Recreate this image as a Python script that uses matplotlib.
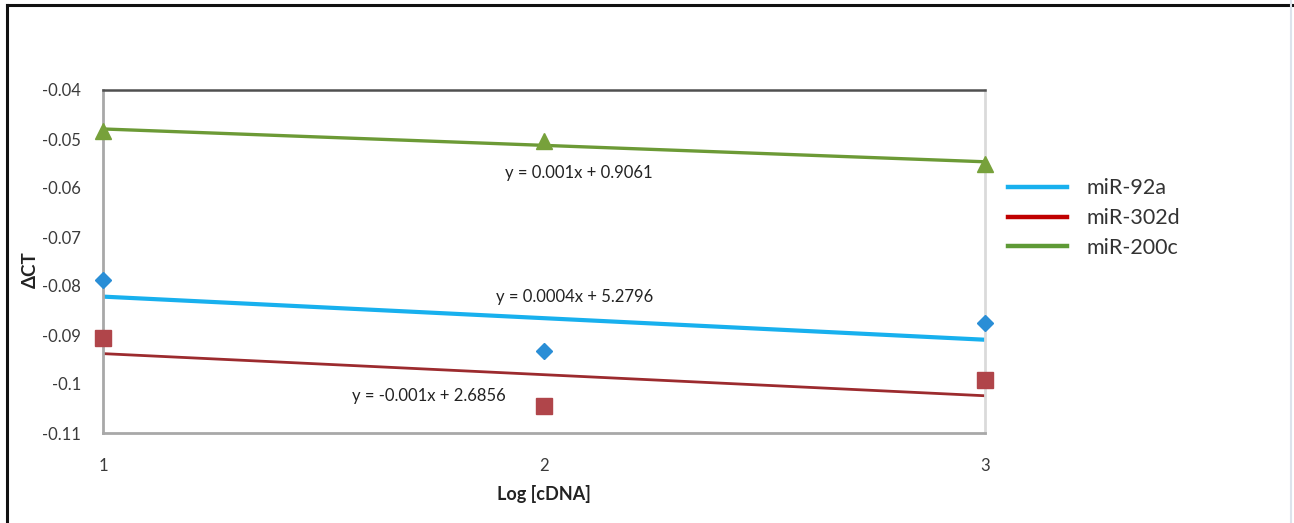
import numpy as np
import matplotlib
matplotlib.use("Agg")
import matplotlib.pyplot as plt
from matplotlib.lines import Line2D

plt.rcParams['font.family'] = ['Lato', 'DejaVu Sans']

# Dilution series (log of cDNA amount)
log_cdna = [1, 2, 3]

# Delta CT per miRNA
mir_92a = [-0.0788, -0.0933, -0.0876]
mir_302d = [-0.0906, -0.1045, -0.0992]
mir_200c = [-0.0484, -0.0504, -0.0551]

series_names = ["miR-92a", "miR-302d", "miR-200c"]
equations = ["y = 0.0004x + 5.2796", "y = -0.001x + 2.6856", "y = 0.001x + 0.9061"]

y_ticks = [-0.04, -0.05, -0.06, -0.07, -0.08, -0.09, -0.1, -0.11]
y_tick_labels = ["-0.04", "-0.05", "-0.06", "-0.07", "-0.08", "-0.09", "-0.1", "-0.11"]

W, H = 1294, 523
fig = plt.figure(figsize=(W / 100, H / 100), dpi=100)
ax = fig.add_axes([103 / W, 1 - 433 / H, (985 - 103) / W, (433 - 90) / H])

styles = [
    dict(data=mir_92a, marker="D", mcolor="#2a8ed6", ms=8, lcolor="#18b0ee", lw=3.0, legcolor="#18b0ee"),
    dict(data=mir_302d, marker="s", mcolor="#b0454a", ms=11, lcolor="#9c2b2e", lw=2.0, legcolor="#c00000"),
    dict(data=mir_200c, marker="^", mcolor="#77a13b", ms=11, lcolor="#6c9a36", lw=2.4, legcolor="#5e9a36"),
]

x = np.array(log_cdna, dtype=float)
legend_handles = []
for name, st in zip(series_names, styles):
    y = np.array(st["data"])
    slope, intercept = np.polyfit(x, y, 1)
    ax.plot(x, slope * x + intercept, color=st["lcolor"], lw=st["lw"], zorder=2,
            solid_capstyle="butt")
    ax.plot(x, y, linestyle="none", marker=st["marker"], ms=st["ms"],
            color=st["mcolor"], mec=st["mcolor"], zorder=4, clip_on=False)
    legend_handles.append(Line2D([0], [0], color=st["legcolor"], lw=3.2, label=name))

# Trendline equations
eq_kw = dict(fontsize=12, color="#222222", ha="center", va="center")
ax.text(2.08, -0.0569, equations[2], **eq_kw)
ax.text(2.07, -0.0823, equations[0], **eq_kw)
ax.text(1.74, -0.1024, equations[1], **eq_kw)

ax.set_xlim(1, 3)
ax.set_ylim(-0.11, -0.04)
ax.set_xticks(log_cdna)
ax.set_xticklabels([str(v) for v in log_cdna])
ax.set_yticks(y_ticks)
ax.set_yticklabels(y_tick_labels)
ax.tick_params(axis="both", length=0, labelsize=12, colors="#3a3a3a")
ax.tick_params(axis="x", pad=18)
ax.tick_params(axis="y", pad=16)

ax.spines["top"].set_color("#505050")
ax.spines["top"].set_linewidth(1.8)
ax.spines["left"].set_color("#a8a8a8")
ax.spines["left"].set_linewidth(2.0)
ax.spines["bottom"].set_color("#a8a8a8")
ax.spines["bottom"].set_linewidth(2.0)
ax.spines["right"].set_color("#dadada")
ax.spines["right"].set_linewidth(2.0)

ax.set_xlabel("Log [cDNA]", fontsize=13, fontweight="bold", color="#222222", labelpad=8)
fig.text(30 / W, 1 - 270 / H, "ΔCT", rotation=90, fontsize=13.5, fontweight="bold",
         color="#222222", ha="center", va="center")

fig.legend(handles=legend_handles, loc="upper left", bbox_to_anchor=(989 / W, 1 - 159 / H),
           frameon=False, fontsize=15.5, handlelength=2.7, handletextpad=0.95,
           labelspacing=0.45, labelcolor="#333333")

# Outer frame (top and left edges)
fig.add_artist(Line2D([7 / W, 1.0], [1 - 5 / H, 1 - 5 / H], color="#111111", lw=2.2,
                      transform=fig.transFigure))
fig.add_artist(Line2D([7 / W, 7 / W], [0.0, 1 - 5 / H], color="#111111", lw=2.2,
                      transform=fig.transFigure))
fig.add_artist(Line2D([1291 / W, 1291 / W], [0.0, 1.0], color="#dde3ec", lw=1.5,
                      transform=fig.transFigure))

fig.savefig("out.png", dpi=100)
